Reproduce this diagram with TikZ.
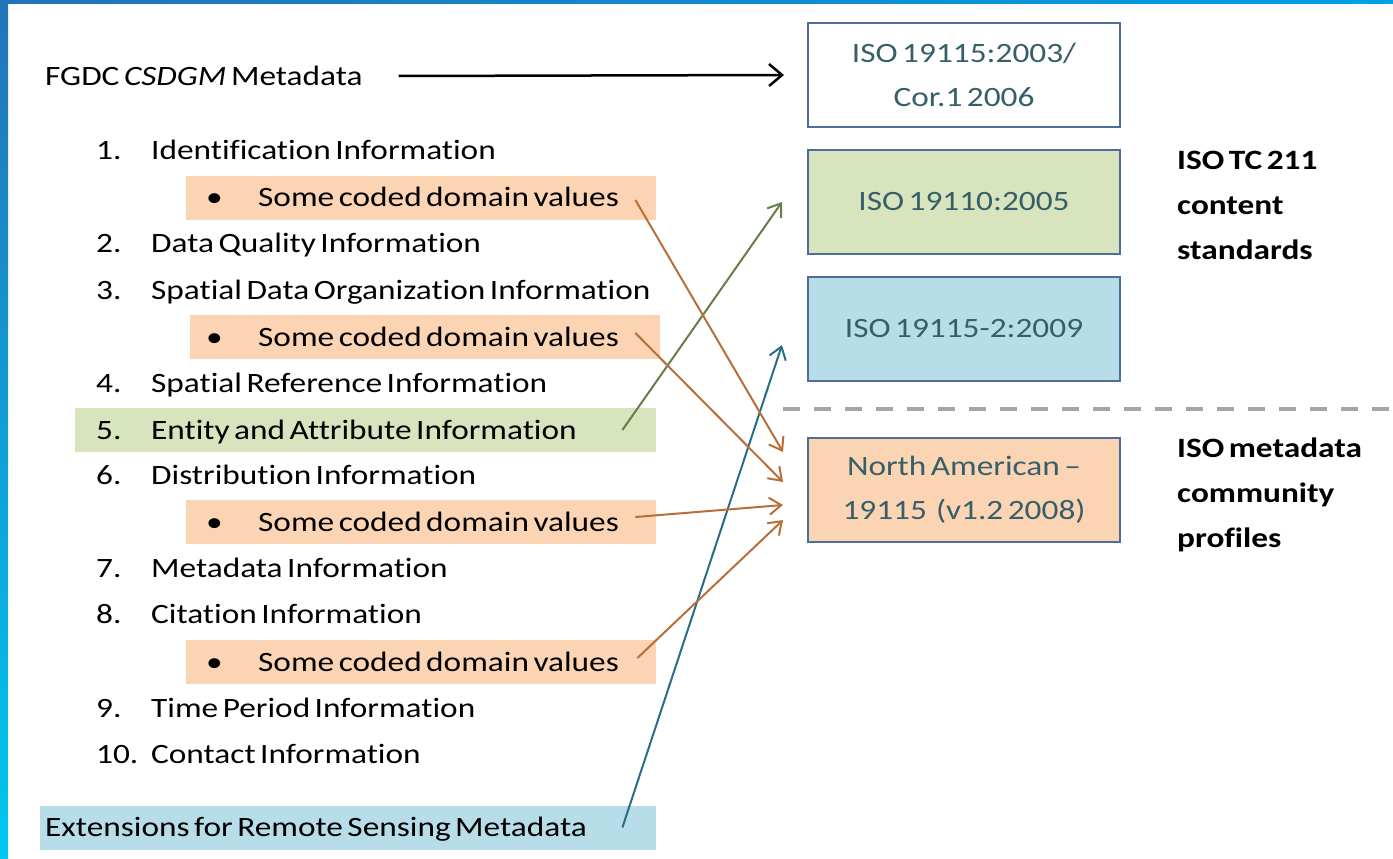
\documentclass[tikz,border=0pt]{standalone}
\usepackage{fontspec}
\setmainfont{Carlito}[FakeStretch=1.19,WordSpace=0.6,Ligatures=NoCommon]
\usepackage{tikz}
\usetikzlibrary{arrows.meta,positioning,calc}

\definecolor{boxline}{RGB}{80,110,155}
\definecolor{boxtext}{RGB}{55,95,105}
\definecolor{peach}{RGB}{251,212,180}
\definecolor{lgreen}{RGB}{215,228,189}
\definecolor{lblue}{RGB}{183,221,232}
\definecolor{brownarr}{RGB}{185,110,55}
\definecolor{greenarr}{RGB}{105,125,70}
\definecolor{bluearr}{RGB}{40,110,135}
\definecolor{sepgrey}{RGB}{165,165,165}
\definecolor{slideA}{RGB}{35,115,185}
\definecolor{slideB}{RGB}{0,200,240}
\definecolor{slideC}{RGB}{0,160,230}

\newcommand{\itemno}[1]{\makebox[55pt][l]{#1}}
\newcommand{\bul}{\makebox[52pt][l]{\textbullet}}
\newcommand{\bandtext}[3]{\makebox[#1][l]{\hspace*{#2}#3}}

\tikzset{
  item/.style={anchor=west, inner sep=0pt, text height=22pt, text depth=4pt},
  band/.style={anchor=west, inner sep=0pt, minimum height=44pt, text height=22pt, text depth=4pt},
  stdbox/.style={draw=boxline, line width=2pt, minimum width=312pt, minimum height=104pt, inner sep=0pt, align=center, text=boxtext},
  group/.style={anchor=west, inner sep=0pt, align=left, font=\fontsize{28}{45}\selectfont\bfseries},
  link/.style={line width=2pt, -{Straight Barb[length=12pt,width=17pt,line width=2pt]}},
}

\begin{document}
\begin{tikzpicture}[x=1pt,y=-1pt,font=\fontsize{28}{44}\selectfont]
	\useasboundingbox (0,0) rectangle (1393,859);
	% slide background
	\fill[top color=slideA, bottom color=slideB] (0,0) rectangle (8,859);
	\fill[left color=slideA, right color=slideC] (0,0) rectangle (1393,4);

	% left column
	\node[item] (fgdc) at (45,76) {FGDC \textit{CSDGM} Metadata};
	\node[item] (i1) at (96,150) {\itemno{1.}Identification Information};
	\node[band, fill=peach] (s1) at (186,197.5) {\bandtext{470pt}{20pt}{\bul Some coded domain values}};
	\node[item] (i2) at (96,243) {\itemno{2.}Data Quality Information};
	\node[item] (i3) at (96,290) {\itemno{3.}Spatial Data Organization Information};
	\node[band, fill=peach] (s2) at (190,337) {\bandtext{470pt}{16pt}{\bul Some coded domain values}};
	\node[item] (i4) at (96,383) {\itemno{4.}Spatial Reference Information};
	\node[band, fill=lgreen] (ea) at (75,430) {\bandtext{581pt}{21pt}{\itemno{5.}Entity and Attribute Information}};
	\node[item] (i6) at (96,475) {\itemno{6.}Distribution Information};
	\node[band, fill=peach] (s3) at (186,522) {\bandtext{470pt}{20pt}{\bul Some coded domain values}};
	\node[item] (i7) at (96,568) {\itemno{7.}Metadata Information};
	\node[item] (i8) at (96,614) {\itemno{8.}Citation Information};
	\node[band, fill=peach] (s4) at (186,662) {\bandtext{470pt}{20pt}{\bul Some coded domain values}};
	\node[item] (i9) at (96,708) {\itemno{9.}Time Period Information};
	\node[item] (i10) at (96,754) {\itemno{10.}Contact Information};
	\node[band, fill=lblue] (ext) at (40,827.5) {\bandtext{616pt}{5pt}{Extensions for Remote Sensing Metadata}};

	% standards
	\node[stdbox, fill=white] (iso1) at (964,75) {ISO 19115:2003/\\Cor.1 2006};
	\node[stdbox, fill=lgreen] (iso2) at (964,202) {ISO 19110:2005};
	\node[stdbox, fill=lblue] (iso3) at (964,329) {ISO 19115-2:2009};
	\node[stdbox, fill=peach] (na) at (964,489.5) {North American --\\19115\ \ (v1.2 2008)};

	\node[group] (tc) at (1177,205) {ISO TC 211\\content\\standards};
	\node[group] (prof) at (1177,495) {ISO metadata\\community\\profiles};

	\coordinate (sepL) at (783,409);
	\coordinate (sepR) at (1393,409);
	\draw[sepgrey, line width=4pt, dash pattern=on 17pt off 14pt] (sepL) -- (sepR);

	% mappings
	\path[line width=2.5pt, -{Straight Barb[length=13pt,width=22pt,line width=2.5pt]}] ([xshift=36pt]fgdc.east) edge ([xshift=-23pt]iso1.west);
	\path[link, greenarr] ([xshift=-34pt]ea.east) edge ([xshift=-25pt]iso2.west);
	\path[link, bluearr] ([xshift=-34pt]ext.east) edge ([xshift=-25pt,yshift=-16pt]iso3.west);
	\path[link, brownarr] ([xshift=-21pt,yshift=-2.5pt]s1.east) edge ([xshift=-24pt,yshift=37.5pt]na.west);
	\path[link, brownarr] ([xshift=-25pt,yshift=4pt]s2.east) edge ([xshift=-24pt,yshift=7.5pt]na.west);
	\path[link, brownarr] ([xshift=-21pt,yshift=5pt]s3.east) edge ([xshift=-24pt,yshift=-15.5pt]na.west);
	\path[link, brownarr] ([xshift=-19pt,yshift=4pt]s4.east) edge ([xshift=-24pt,yshift=-30.5pt]na.west);
\end{tikzpicture}
\end{document}
